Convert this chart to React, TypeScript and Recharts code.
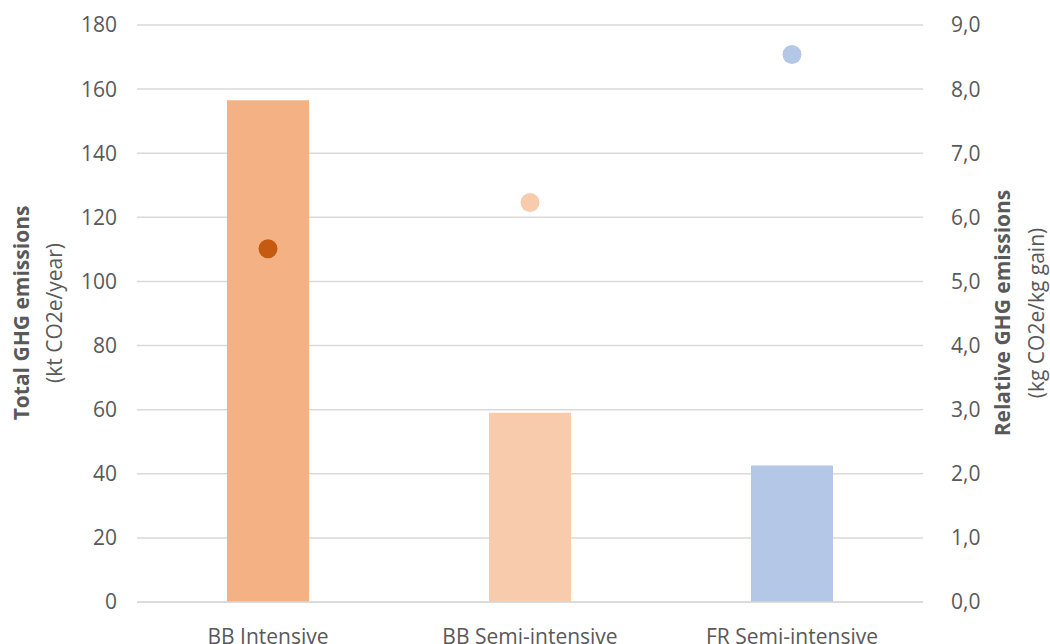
import { ComposedChart, Bar, Scatter, XAxis, YAxis, CartesianGrid, Cell } from 'recharts'

const categories = ['BB Intensive', 'BB Semi-intensive', 'FR Semi-intensive']
const totalEmissions = [156.5, 59, 42.6]
const relativeEmissions = [5.51, 6.23, 8.54]
const barColors = ['#F4B183', '#F8CBAD', '#B4C7E7']
const dotColors = ['#C55A11', '#F8CBAD', '#B4C7E7']
const leftTicks = [0, 20, 40, 60, 80, 100, 120, 140, 160, 180]
const rightTicks = [0, 1, 2, 3, 4, 5, 6, 7, 8, 9]

const data = categories.map((name, i) => ({
  name,
  total: totalEmissions[i],
  rel: relativeEmissions[i],
}))

const FONT = "'Open Sans', sans-serif"
const TEXT = '#595959'
const FS = 21

function Dot(props: any) {
  const { cx, cy, fill } = props
  if (cx == null || cy == null) return null
  return <circle cx={cx} cy={cy} r={9.5} fill={fill} />
}

function XTick({ x, y, payload }: any) {
  return (
    <text x={x} y={y + 34} textAnchor="middle" fill={TEXT} fontSize={FS} fontFamily={FONT}>
      {payload.value}
    </text>
  )
}

export default function App() {
  return (
    <div style={{ position: 'absolute', left: 0, top: 0, width: 1050, height: 644, background: '#fff' }}>
      <ComposedChart
        width={1050}
        height={644}
        data={data}
        margin={{ top: 25, right: 0, bottom: 0, left: 0 }}
      >
        <CartesianGrid yAxisId="left" vertical={false} stroke="#D9D9D9" strokeWidth={1.5} />
        <XAxis
          dataKey="name"
          axisLine={{ stroke: '#D9D9D9', strokeWidth: 1.5 }}
          tickLine={false}
          height={42}
          tick={<XTick />}
          interval={0}
        />
        <YAxis
          yAxisId="left"
          domain={[0, 180]}
          ticks={leftTicks}
          width={137}
          axisLine={false}
          tickLine={false}
          tickMargin={14}
          tick={{ fill: TEXT, fontSize: FS, fontFamily: FONT }}
          label={{
            content: () => (
              <g fontFamily={FONT} fill={TEXT}>
                <text x={29} y={313} transform="rotate(-90 29 313)" textAnchor="middle" fontSize={FS} fontWeight="bold">
                  Total GHG emissions
                </text>
                <text x={62} y={313} transform="rotate(-90 62 313)" textAnchor="middle" fontSize={FS}>
                  (kt CO2e/year)
                </text>
              </g>
            ),
          }}
        />
        <YAxis
          yAxisId="right"
          orientation="right"
          domain={[0, 9]}
          ticks={rightTicks}
          width={127}
          axisLine={false}
          tickLine={false}
          tickMargin={22}
          tickFormatter={(v: number) => v.toFixed(1).replace('.', ',')}
          tick={{ fill: TEXT, fontSize: FS, fontFamily: FONT, textAnchor: 'start' }}
          label={{
            content: () => (
              <g fontFamily={FONT} fill={TEXT}>
                <text x={1010} y={313} transform="rotate(-90 1010 313)" textAnchor="middle" fontSize={FS} fontWeight="bold">
                  Relative GHG emissions
                </text>
                <text x={1044} y={313} transform="rotate(-90 1044 313)" textAnchor="middle" fontSize={FS}>
                  (kg CO2e/kg gain)
                </text>
              </g>
            ),
          }}
        />
        <Bar yAxisId="left" dataKey="total" barSize={82} isAnimationActive={false}>
          {data.map((d, i) => (
            <Cell key={d.name} fill={barColors[i]} />
          ))}
        </Bar>
        <Scatter yAxisId="right" dataKey="rel" shape={<Dot />} isAnimationActive={false}>
          {data.map((d, i) => (
            <Cell key={d.name} fill={dotColors[i]} />
          ))}
        </Scatter>
      </ComposedChart>
    </div>
  )
}
